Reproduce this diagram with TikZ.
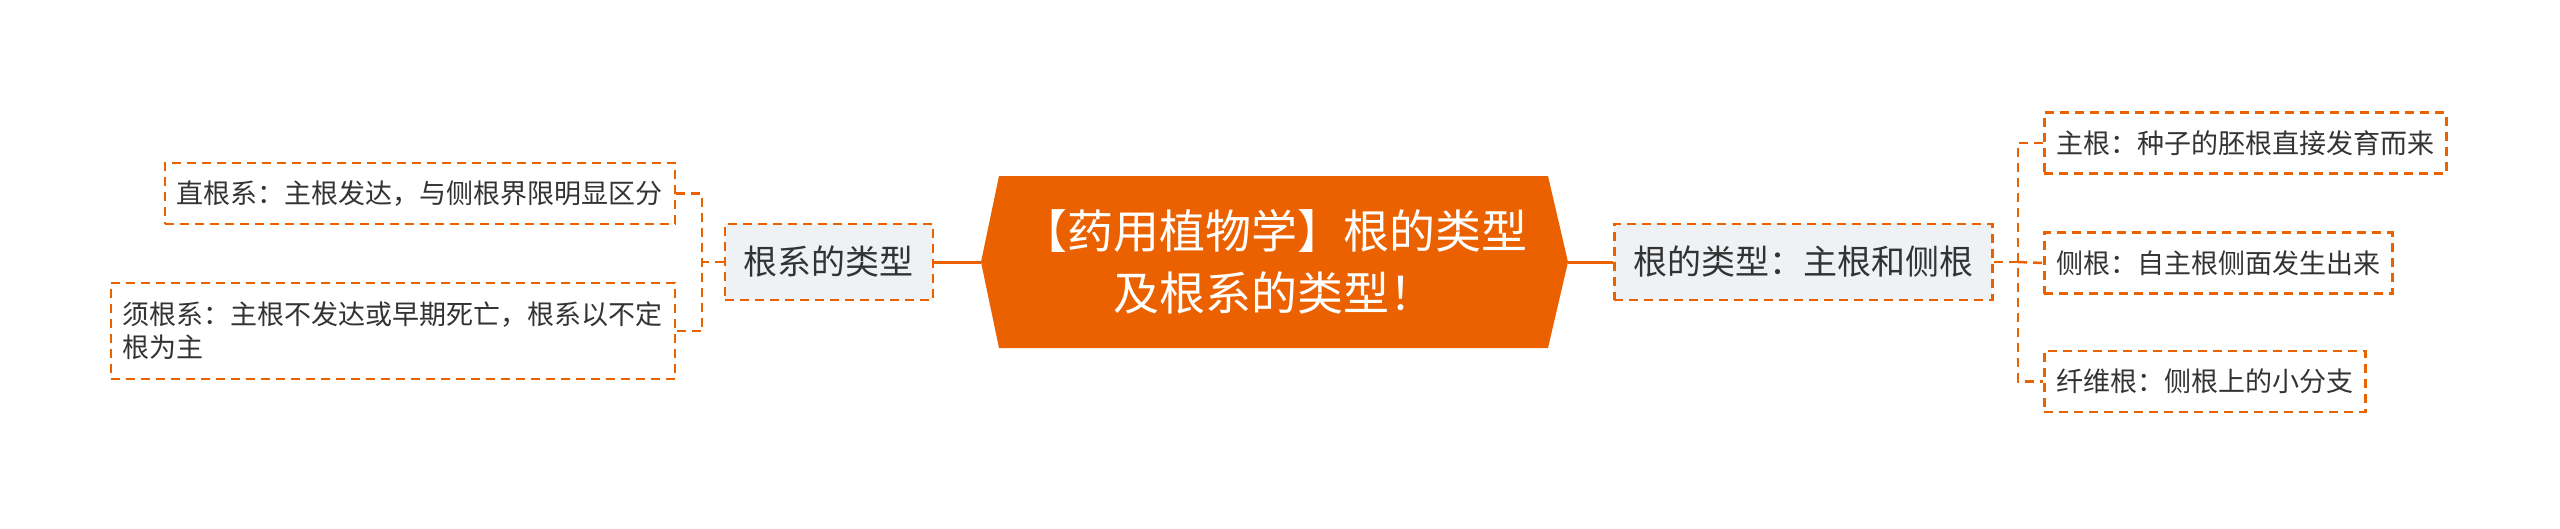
\documentclass[tikz,border=0pt]{standalone}
\usepackage{fontspec}
\newfontfamily\cjk{Noto Sans CJK SC}
\definecolor{orng}{HTML}{EB6100}
\definecolor{mainfill}{HTML}{EFF2F5}
\definecolor{txt}{HTML}{333333}
\tikzset{
 dashline/.style={draw=orng, line width=2.5pt, dash pattern=on 9pt off 6pt},
 mainbox/.style={dashline, fill=mainfill, font=\cjk\fontsize{34}{40}\selectfont, text=txt, inner xsep=19pt, inner ysep=0pt, minimum height=76pt},
 leafbox/.style={dashline, fill=white, font=\cjk\fontsize{27}{33}\selectfont, text=txt, inner xsep=12pt, inner ysep=0pt, minimum height=61pt},
 link/.style={draw=orng, line width=3pt},
}
\begin{document}
\begin{tikzpicture}[x=1pt,y=-1pt]
\useasboundingbox (0,0) rectangle (2560,528);
% central node
\coordinate (cL) at (981,262);
\coordinate (cR) at (1568,262);
\fill[orng] (999,176) -- (1548,176) -- (cR) -- (1548,348) -- (999,348) -- (cL) -- cycle;
\node (c) at (1274,262) [text=white, font=\cjk\fontsize{46}{62}\selectfont, align=center] {【药用植物学】根的类型\\及根系的类型！};
% main branches
\node (lm) [mainbox, anchor=east] at (934,262) {根系的类型};
\node (rm) [mainbox, anchor=west] at (1613,262) {根的类型：主根和侧根};
% left leaves
\node (l1) [leafbox, anchor=east] at (676,193.5) {直根系：主根发达，与侧根界限明显区分};
\node (l2) [leafbox, anchor=east, text width=540pt, align=left, minimum height=96pt] at (676,331) {须根系：主根不发达或早期死亡，根系以不定\\根为主};
% right leaves
\node (r1) [leafbox, anchor=west] at (2043,143) {主根：种子的胚根直接发育而来};
\node (r2) [leafbox, anchor=west] at (2043,263) {侧根：自主根侧面发生出来};
\node (r3) [leafbox, anchor=west] at (2043,381.5) {纤维根：侧根上的小分支};
% connectors
\draw[link] (cL) -- (lm.east);
\draw[link] (cR) -- (rm.west);
\coordinate (lj) at (702,262);
\coordinate (rj) at (2018,262);
\draw[dashline] (lm.west) -- (lj);
\draw[dashline] (l1.east) -- (l1.east -| lj) -- (l2.east -| lj) -- (l2.east);
\draw[dashline] (rm.east) -- (rj);
\draw[dashline] (r1.west) -- (r1.west -| rj) -- (r3.west -| rj) -- (r3.west);
\draw[dashline] (rj) -- (r2.west);
\end{tikzpicture}
\end{document}
